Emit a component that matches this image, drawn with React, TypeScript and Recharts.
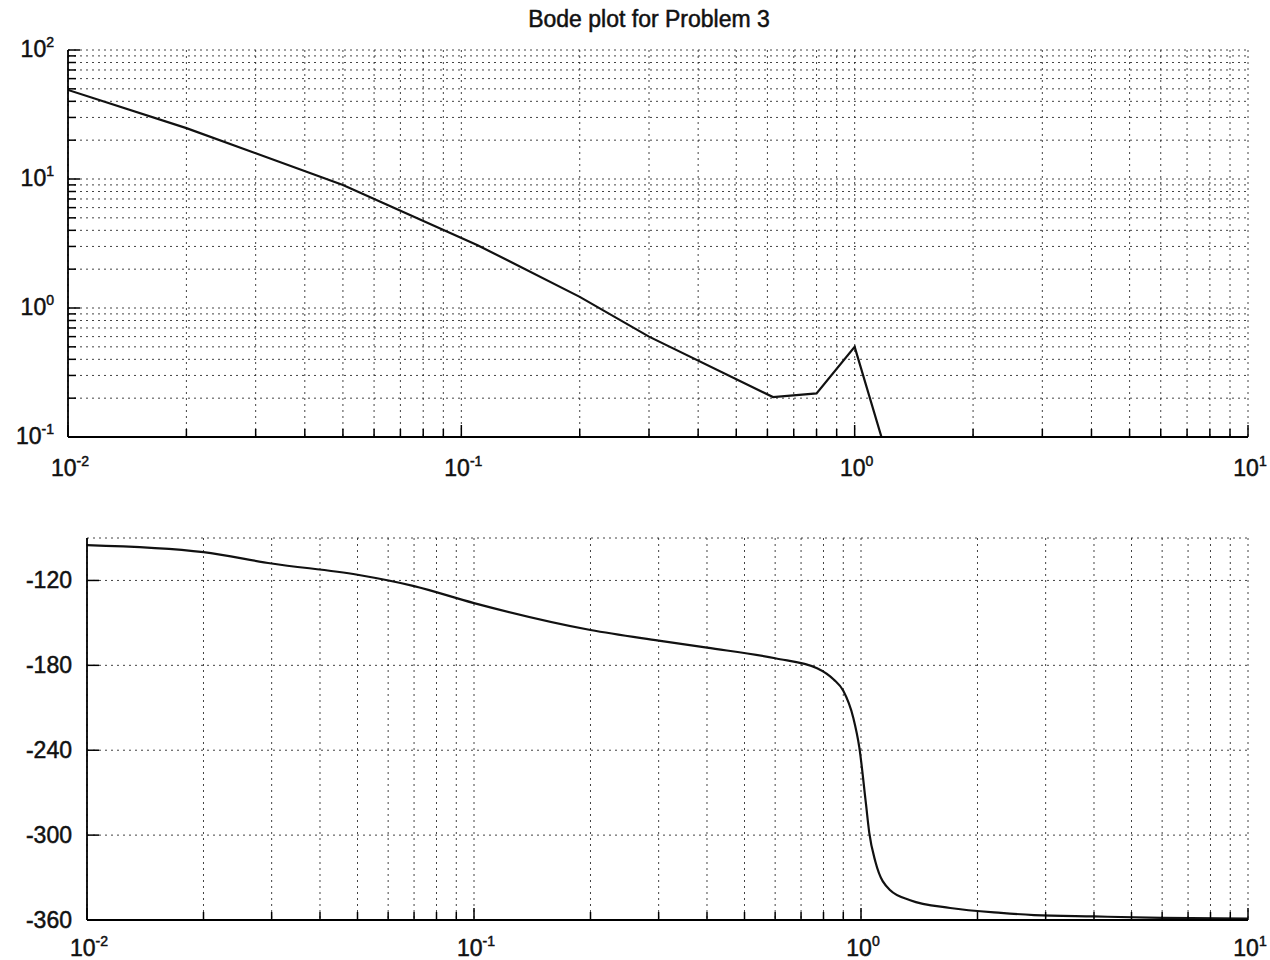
import React from 'react';
import { LineChart, Line, XAxis, YAxis, CartesianGrid } from 'recharts';

// magnitude
const magFreq = [0.01, 0.02, 0.05, 0.11, 0.2, 0.3, 0.62, 0.8, 1.0, 1.2];
const magValue = [49, 24.8, 9.0, 3.07, 1.22, 0.6, 0.204, 0.218, 0.5, 0.077];

// phase in degrees (lower panel)
const phaseFreq = [
  0.01, 0.02, 0.03, 0.05, 0.07, 0.1, 0.2, 0.3, 0.4, 0.6, 0.77, 0.85, 0.9, 0.955,
  0.99, 1.03, 1.05, 1.09, 1.19, 1.34, 1.7, 2.3, 2.8, 4, 6, 10,
];
const phaseValue = [
  -95, -100, -108, -116, -124, -136, -155, -162.5, -167.5, -175, -182, -190, -198, -217,
  -238, -278, -298, -319, -339, -346, -351.5, -355, -356.5, -357.5, -358.5, -359,
];

const freqDecades = [0.01, 0.1, 1, 10];
const freqExp = ['-2', '-1', '0', '1'];
const magDecades = [0.1, 1, 10, 100];
const magExp = ['-1', '0', '1', '2'];
const phaseTicks = [-360, -300, -240, -180, -120];
const minorSteps = [1, 2, 3, 4, 5, 6, 7, 8, 9];

const logTicks = (decades: number[]) => {
  const out: number[] = [];
  decades.slice(0, -1).forEach((d) => minorSteps.forEach((m) => out.push(+(d * m).toPrecision(6))));
  out.push(decades[decades.length - 1]);
  return out;
};

const freqTicks = logTicks(freqDecades);
const magTicks = logTicks(magDecades);

const magData = magFreq.map((f, i) => ({ f, m: magValue[i] }));
const phaseData = phaseFreq.map((f, i) => ({ f, p: phaseValue[i] }));

const FONT = 'Liberation Sans, Arial, Helvetica, sans-serif';
const GRID = { stroke: '#222', strokeDasharray: '2 4', strokeWidth: 1, strokeOpacity: 0.85 };
const TXT = { fontFamily: FONT, fontSize: 23, fill: '#111', stroke: '#111', strokeWidth: 0.5 };

const decadeIndex = (v: number, list: number[]) =>
  list.findIndex((d) => Math.abs(d - v) < d * 1e-6);

const FreqTick = (props: any) => {
  const { x, y, payload, side, labelGap } = props;
  const idx = decadeIndex(payload.value, freqDecades);
  const len = idx >= 0 ? 12 : 8;
  const dir = side === 'top' ? 1 : -1;
  return (
    <g>
      <line x1={x} y1={y} x2={x} y2={y + dir * len} stroke="#000" strokeWidth={1.5} />
      {side !== 'top' && idx >= 0 && (
        <text x={x + 2} y={y + labelGap} textAnchor="middle" {...TXT}>
          10
          <tspan dy={-10} fontSize={14}>{freqExp[idx]}</tspan>
        </text>
      )}
    </g>
  );
};

const MagTick = (props: any) => {
  const { x, y, payload, side } = props;
  const idx = decadeIndex(payload.value, magDecades);
  const len = idx >= 0 ? 12 : 8;
  const dir = side === 'right' ? -1 : 1;
  return (
    <g>
      <line x1={x} y1={y} x2={x + dir * len} y2={y} stroke="#000" strokeWidth={1.5} />
      {side !== 'right' && idx >= 0 && (
        <text x={x - 14} y={y + 7} textAnchor="end" {...TXT}>
          10
          <tspan dy={-10} fontSize={14}>{magExp[idx]}</tspan>
        </text>
      )}
    </g>
  );
};

const PhaseTick = (props: any) => {
  const { x, y, payload, side } = props;
  const dir = side === 'right' ? -1 : 1;
  return (
    <g>
      <line x1={x} y1={y} x2={x + dir * 12} y2={y} stroke="#000" strokeWidth={1.5} />
      {side !== 'right' && (
        <text x={x - 15} y={y + 8} textAnchor="end" {...TXT}>
          {payload.value}
        </text>
      )}
    </g>
  );
};

const axisLine = { stroke: '#000', strokeWidth: 1.8 };

export default function App() {
  return (
    <div style={{ position: 'absolute', left: 0, top: 0, width: 1270, height: 960, background: '#fff' }}>
      <div
        style={{
          position: 'absolute', left: 0, top: 6, width: 1298, textAlign: 'center',
          fontFamily: FONT, fontSize: 23, color: '#111', WebkitTextStroke: '0.5px #111',
        }}
      >
        Bode plot for Problem 3
      </div>

      <div style={{ position: 'absolute', left: 0, top: 0 }}>
        <LineChart width={1270} height={480} data={magData} margin={{ top: 50, right: 22, bottom: 0, left: 0 }}>
          <CartesianGrid {...GRID} />
          <XAxis
            dataKey="f" type="number" scale="log" domain={[0.01, 10]} allowDataOverflow
            ticks={freqTicks} interval={0} height={43} tickSize={0} tickMargin={0} tickLine={false}
            axisLine={axisLine} tick={(p: any) => <FreqTick {...p} side="bottom" labelGap={39} />}
          />
          <XAxis
            xAxisId="top" orientation="top" dataKey="f" type="number" scale="log" domain={[0.01, 10]}
            allowDataOverflow ticks={freqTicks} interval={0} height={0} tickSize={0} tickMargin={0}
            tickLine={false} axisLine={axisLine} tick={(p: any) => <FreqTick {...p} side="top" />}
          />
          <YAxis
            type="number" scale="log" domain={[0.1, 100]} allowDataOverflow ticks={magTicks} interval={0}
            width={68} tickSize={0} tickMargin={0} tickLine={false} axisLine={axisLine}
            tick={(p: any) => <MagTick {...p} side="left" />}
          />
          <YAxis
            yAxisId="right" orientation="right" type="number" scale="log" domain={[0.1, 100]} allowDataOverflow
            ticks={magTicks} interval={0} width={0} tickSize={0} tickMargin={0} tickLine={false}
            axisLine={axisLine} tick={(p: any) => <MagTick {...p} side="right" />}
          />
          <Line
            dataKey="m" type="linear" stroke="#111" strokeWidth={2.2} dot={false} isAnimationActive={false}
          />
        </LineChart>
      </div>

      <div style={{ position: 'absolute', left: 0, top: 480 }}>
        <LineChart width={1270} height={480} data={phaseData} margin={{ top: 58, right: 22, bottom: 0, left: 0 }}>
          <CartesianGrid {...GRID} />
          <XAxis
            dataKey="f" type="number" scale="log" domain={[0.01, 10]} allowDataOverflow
            ticks={freqTicks} interval={0} height={40} tickSize={0} tickMargin={0} tickLine={false}
            axisLine={axisLine} tick={(p: any) => <FreqTick {...p} side="bottom" labelGap={36} />}
          />
          <XAxis
            xAxisId="top" orientation="top" dataKey="f" type="number" scale="log" domain={[0.01, 10]}
            allowDataOverflow ticks={freqTicks} interval={0} height={0} tickSize={0} tickMargin={0}
            tickLine={false} axisLine={axisLine} tick={(p: any) => <FreqTick {...p} side="top" />}
          />
          <YAxis
            type="number" domain={[-360, -90]} allowDataOverflow ticks={phaseTicks} interval={0}
            width={87} tickSize={0} tickMargin={0} tickLine={false} axisLine={axisLine}
            tick={(p: any) => <PhaseTick {...p} side="left" />}
          />
          <YAxis
            yAxisId="right" orientation="right" type="number" domain={[-360, -90]} allowDataOverflow
            ticks={phaseTicks} interval={0} width={0} tickSize={0} tickMargin={0} tickLine={false}
            axisLine={axisLine} tick={(p: any) => <PhaseTick {...p} side="right" />}
          />
          <Line
            dataKey="p" type="monotone" stroke="#111" strokeWidth={2.2} dot={false} isAnimationActive={false}
          />
        </LineChart>
      </div>
    </div>
  );
}
